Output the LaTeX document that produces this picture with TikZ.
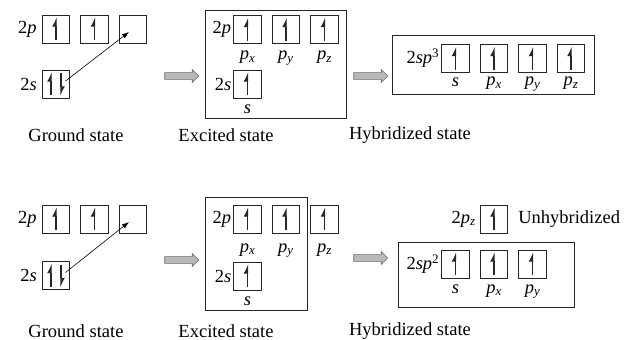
\documentclass[tikz,border=0pt]{standalone}
\usepackage{fontspec}
\setmainfont{Liberation Serif}
\usetikzlibrary{arrows.meta,positioning,shapes.arrows}
\definecolor{grisF}{RGB}{185,185,185}
\definecolor{grisT}{RGB}{105,105,105}
\newcommand{\orbl}[2]{\textit{#1}\textsubscript{\textit{#2}}}
\tikzset{
  orb/.style={rectangle, draw=black!85, line width=0.7pt, minimum width=27.5pt,
              minimum height=28pt, inner sep=0pt},
  spin/.style={line width=1.1pt, -{Latex[left,length=8pt,width=8pt]}},
  orbup/.style={orb, path picture={
      \draw[spin] ([yshift=3pt]path picture bounding box.south)
                  -- ([yshift=-2pt]path picture bounding box.north);}},
  orbpair/.style={orb, path picture={
      \draw[spin] ([xshift=-5pt,yshift=3pt]path picture bounding box.south)
                  -- ([xshift=-5pt,yshift=-2pt]path picture bounding box.north);
      \draw[spin] ([xshift=5pt,yshift=-3pt]path picture bounding box.north)
                  -- ([xshift=5pt,yshift=2pt]path picture bounding box.south);}},
  lvl/.style={inner sep=1pt},
  orblab/.style={inner sep=1pt},
  etat/.style={inner sep=0pt},
  cadre/.style={draw=black!85, line width=0.7pt},
  saut/.style={-{Latex[length=7pt,width=5pt]}, line width=0.6pt},
  bloc/.style={single arrow, draw=grisT, fill=grisF, line width=0.6pt,
               minimum height=34pt, minimum width=13pt,
               single arrow head extend=3pt, inner sep=3pt},
}

\begin{document}
\begin{tikzpicture}[x=1pt, y=-1pt, font=\fontsize{18.5}{22}\selectfont]
  \useasboundingbox (0,0) rectangle (638,340);
  % --- sp3 : ground state
  \node[orbup] (g1p1) at (56,29) {};
  \node[orbup, right=10.3pt of g1p1] (g1p2) {};
  \node[orb, right=10.3pt of g1p2] (g1p3) {};
  \node[orbpair] (g1s) at (56,84) {};
  \node[lvl, left=4pt of g1p1] (g1l2p) {2\textit{p}};
  \node[lvl, left=4pt of g1s] (g1l2s) {2\textit{s}};
  \draw[saut] ([xshift=9.5pt,yshift=3pt]g1s.center) -- ([xshift=-4pt,yshift=-3pt]g1p3.center);
  \node[bloc] (fl1) at (180,76) {};
  % --- sp3 : excited state
  \draw[cadre] (205,10) rectangle (346,118);
  \node[orbup] (e1p1) at (247.5,29.5) {};
  \node[orbup, right=10.3pt of e1p1] (e1p2) {};
  \node[orbup, right=10.3pt of e1p2] (e1p3) {};
  \node[orbup] (e1s) at (247.5,84) {};
  \node[lvl, left=1pt of e1p1] (e1l2p) {2\textit{p}};
  \node[lvl, left=1pt of e1s] (e1l2s) {2\textit{s}};
  \node[orblab, below=6pt of e1p1] (e1lx) {\orbl{p}{x}};
  \node[orblab, below=6pt of e1p2] (e1ly) {\orbl{p}{y}};
  \node[orblab, below=6pt of e1p3] (e1lz) {\orbl{p}{z}};
  \node[orblab, below=5pt of e1s] (e1ls) {\textit{s}};
  \node[bloc] (fl2) at (369,76) {};
  % --- sp3 : hybridized state
  \draw[cadre] (392,35) rectangle (594,94);
  \node[orbup] (h1a) at (455.5,58.5) {};
  \node[orbup, right=10.3pt of h1a] (h1b) {};
  \node[orbup, right=10.3pt of h1b] (h1c) {};
  \node[orbup, right=10.3pt of h1c] (h1d) {};
  \node[lvl, left=1pt of h1a] (h1l) {2\textit{sp}\textsuperscript{3}};
  \node[orblab, below=4pt of h1a] (h1la) {\textit{s}};
  \node[orblab, below=3pt of h1b] (h1lb) {\orbl{p}{x}};
  \node[orblab, below=3pt of h1c] (h1lc) {\orbl{p}{y}};
  \node[orblab, below=3pt of h1d] (h1ld) {\orbl{p}{z}};
  \node[etat] (t1a) at (76,135) {Ground state};
  \node[etat] (t1b) at (226,135) {Excited state};
  \node[etat] (t1c) at (410,135) {Hybridized state};
  % --- sp2 : ground state
  \node[orbup] (g2p1) at (56,219) {};
  \node[orbup, right=10.3pt of g2p1] (g2p2) {};
  \node[orb, right=10.3pt of g2p2] (g2p3) {};
  \node[orbpair] (g2s) at (56,275.5) {};
  \node[lvl, left=4pt of g2p1] (g2l2p) {2\textit{p}};
  \node[lvl, left=4pt of g2s] (g2l2s) {2\textit{s}};
  \draw[saut] ([xshift=9.5pt,yshift=3pt]g2s.center) -- ([xshift=-4pt,yshift=-3pt]g2p3.center);
  \node[bloc] (fl3) at (180,260) {};
  % --- sp2 : excited state
  \draw[cadre] (205,197) rectangle (307,310);
  \node[orbup] (e2p1) at (247.5,219) {};
  \node[orbup, right=10.3pt of e2p1] (e2p2) {};
  \node[orbup, right=10.3pt of e2p2] (e2p3) {};
  \node[orbup] (e2s) at (247.5,276) {};
  \node[lvl, left=1pt of e2p1] (e2l2p) {2\textit{p}};
  \node[lvl, left=1pt of e2s] (e2l2s) {2\textit{s}};
  \node[orblab, below=9pt of e2p1] (e2lx) {\orbl{p}{x}};
  \node[orblab, below=9pt of e2p2] (e2ly) {\orbl{p}{y}};
  \node[orblab, below=9pt of e2p3] (e2lz) {\orbl{p}{z}};
  \node[orblab, below=5pt of e2s] (e2ls) {\textit{s}};
  \node[bloc] (fl4) at (369,258) {};
  % --- sp2 : hybridized state
  \node[orbup] (h2z) at (494,219) {};
  \node[lvl, left=3pt of h2z] (h2lz) {2\orbl{p}{z}};
  \node[lvl, right=9pt of h2z] (h2un) {Unhybridized};
  \draw[cadre] (398,242) rectangle (574,307);
  \node[orbup] (h2a) at (455.5,264) {};
  \node[orbup, right=10.3pt of h2a] (h2b) {};
  \node[orbup, right=10.3pt of h2b] (h2c) {};
  \node[lvl, left=1pt of h2a] (h2l) {2\textit{sp}\textsuperscript{2}};
  \node[orblab, below=5pt of h2a] (h2la) {\textit{s}};
  \node[orblab, below=5pt of h2b] (h2lb) {\orbl{p}{x}};
  \node[orblab, below=5pt of h2c] (h2lc) {\orbl{p}{y}};
  \node[etat] (t2a) at (76,331) {Ground state};
  \node[etat] (t2b) at (226,331) {Excited state};
  \node[etat] (t2c) at (410,331) {Hybridized state};
\end{tikzpicture}
\end{document}
